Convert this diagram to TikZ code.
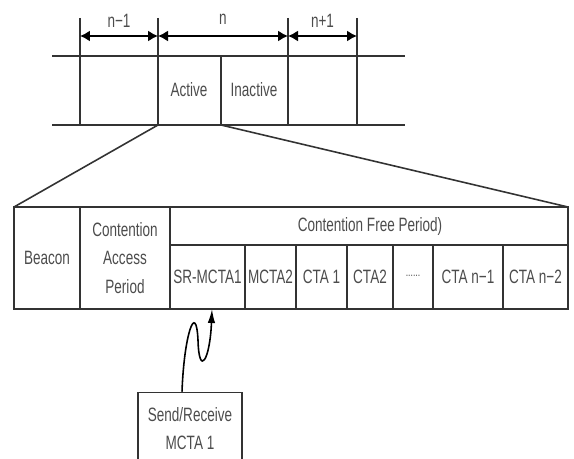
\documentclass[tikz,border=0pt]{standalone}
\usepackage{fontspec}
\setmainfont[FakeStretch=0.7]{Liberation Sans}
\usetikzlibrary{arrows.meta,calc}

\begin{document}
\begin{tikzpicture}[x=0.02cm, y=-0.02cm, line width=0.9pt, color=black!80,
  every node/.style={text=black!70, font=\fontsize{11}{16}\selectfont},
  span/.style={{Latex[length=2mm,width=2.2mm]}-{Latex[length=2mm,width=2.2mm]}, black}]
\useasboundingbox (0,0) rectangle (574,459);
% superframes
\draw (52,56) -- (405,56);
\draw (52,125) -- (405,125);
\foreach \x in {80,158,288,357} \draw (\x,18) -- (\x,125);
\draw (221,56) -- (221,125);
\coordinate (t1) at (80,36);
\coordinate (t2) at (158,36);
\coordinate (t3) at (288,36);
\coordinate (t4) at (357,36);
\draw[span] (t1) -- node[above=1pt] (prev) {n−1} (t2);
\draw[span] (t2) -- node[above=3pt] (cur) {n} (t3);
\draw[span] (t3) -- node[above=1pt] (next) {n+1} (t4);
\node (act) at (189,90) {Active};
\node (inact) at (254,90) {Inactive};
% zoom
\draw (158,125) -- (14,207);
\draw (221,125) -- (568,207);
% active part
\draw (14,207) rectangle (568,309);
\draw (80,207) -- (80,309);
\draw (170,207) -- (170,309);
\draw (170,245) -- (568,245);
\foreach \x in {245,296,347,393,433,503} \draw (\x,245) -- (\x,309);
\node (beacon) at (47,258) {Beacon};
\node[align=center] (cap) at (125,258) {Contention\\Access\\Period};
\node (cfp) at (370,226) {Contention Free Period)};
\foreach \x/\t/\n in {207.5/SR-MCTA1/sr, 270.5/MCTA2/m2, 321.5/CTA 1/c1, 370/CTA2/c2,
  468/CTA n−1/cn1, 535.5/CTA n−2/cn2}
  \node (\n) at (\x,277) {\t};
\node[font=\scriptsize] (dots) at (413,276) {......};
\coordinate (tip) at (212,309);
% send/receive
\node[draw, minimum width=2.08cm, minimum height=1.46cm, align=center] (srbox) at (190,429) {Send/Receive\\MCTA 1};
\draw[-{Latex[length=2.8mm,width=1.5mm]}, black] ($(srbox.north)+(-8,0)$) .. controls (184,335) and (196,300) .. (198,340)
  .. controls (199,378) and (210,360) .. (tip);
\end{tikzpicture}
\end{document}
